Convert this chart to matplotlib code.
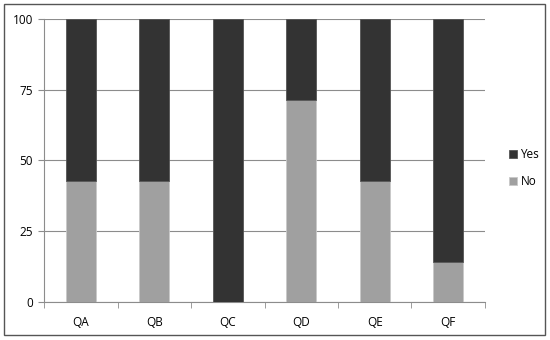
import matplotlib
matplotlib.use("Agg")
import matplotlib.pyplot as plt
from matplotlib.patches import Rectangle

categories = ["QA", "QB", "QC", "QD", "QE", "QF"]
no_vals = [42.86, 42.86, 0, 71.43, 42.86, 14.29]
yes_vals = [57.14, 57.14, 100, 28.57, 57.14, 85.71]
yticks = [0, 25, 50, 75, 100]

plt.rcParams['font.family'] = ['Open Sans', 'DejaVu Sans']
fig = plt.figure(figsize=(5.5, 3.4), dpi=100)
fig.patches.append(Rectangle((4/550, 5/340), 541/550, 331/340, transform=fig.transFigure,
                             fill=False, edgecolor='#555555', linewidth=1.0))
ax = fig.add_axes([44/550, 38/340, 441/550, 283/340])
x = list(range(len(categories)))
w = 0.41
ax.bar(x, no_vals, w, color='#a0a0a0', edgecolor='#c8c8c8', linewidth=0.6, label='No', zorder=3)
ax.bar(x, yes_vals, w, bottom=no_vals, color='#333333', edgecolor='#555555', linewidth=0.6, label='Yes', zorder=3)
ax.set_xlim(-0.5, len(categories) - 0.5)
ax.set_ylim(0, 100)
ax.set_yticks(yticks)
ax.set_yticklabels([str(t) for t in yticks], fontsize=8.5)
ax.yaxis.grid(True, color='#8c8c8c', linewidth=0.8, zorder=0)
ax.set_xticks(x)
ax.set_xticklabels(categories, fontsize=8.5)
ax.set_xticks([i + 0.5 for i in range(-1, len(categories))], minor=True)
ax.tick_params(axis='x', which='major', length=0, pad=10)
ax.tick_params(axis='x', which='minor', length=4, color='#8c8c8c', direction='out')
ax.tick_params(axis='y', length=4, color='#8c8c8c', pad=4)
for s in ['top', 'right']:
    ax.spines[s].set_visible(False)
ax.spines['left'].set_color('#8c8c8c')
ax.spines['bottom'].set_color('#8c8c8c')
h, l = ax.get_legend_handles_labels()
fig.legend(h[::-1], l[::-1], loc='center left', bbox_to_anchor=(498/550, 168/340/1.0 if False else 1 - 168/340),
           frameon=False, fontsize=8.5, handlelength=0.7, handleheight=0.7, handletextpad=0.3,
           labelspacing=1.2)
fig.savefig("out.png", dpi=100)
